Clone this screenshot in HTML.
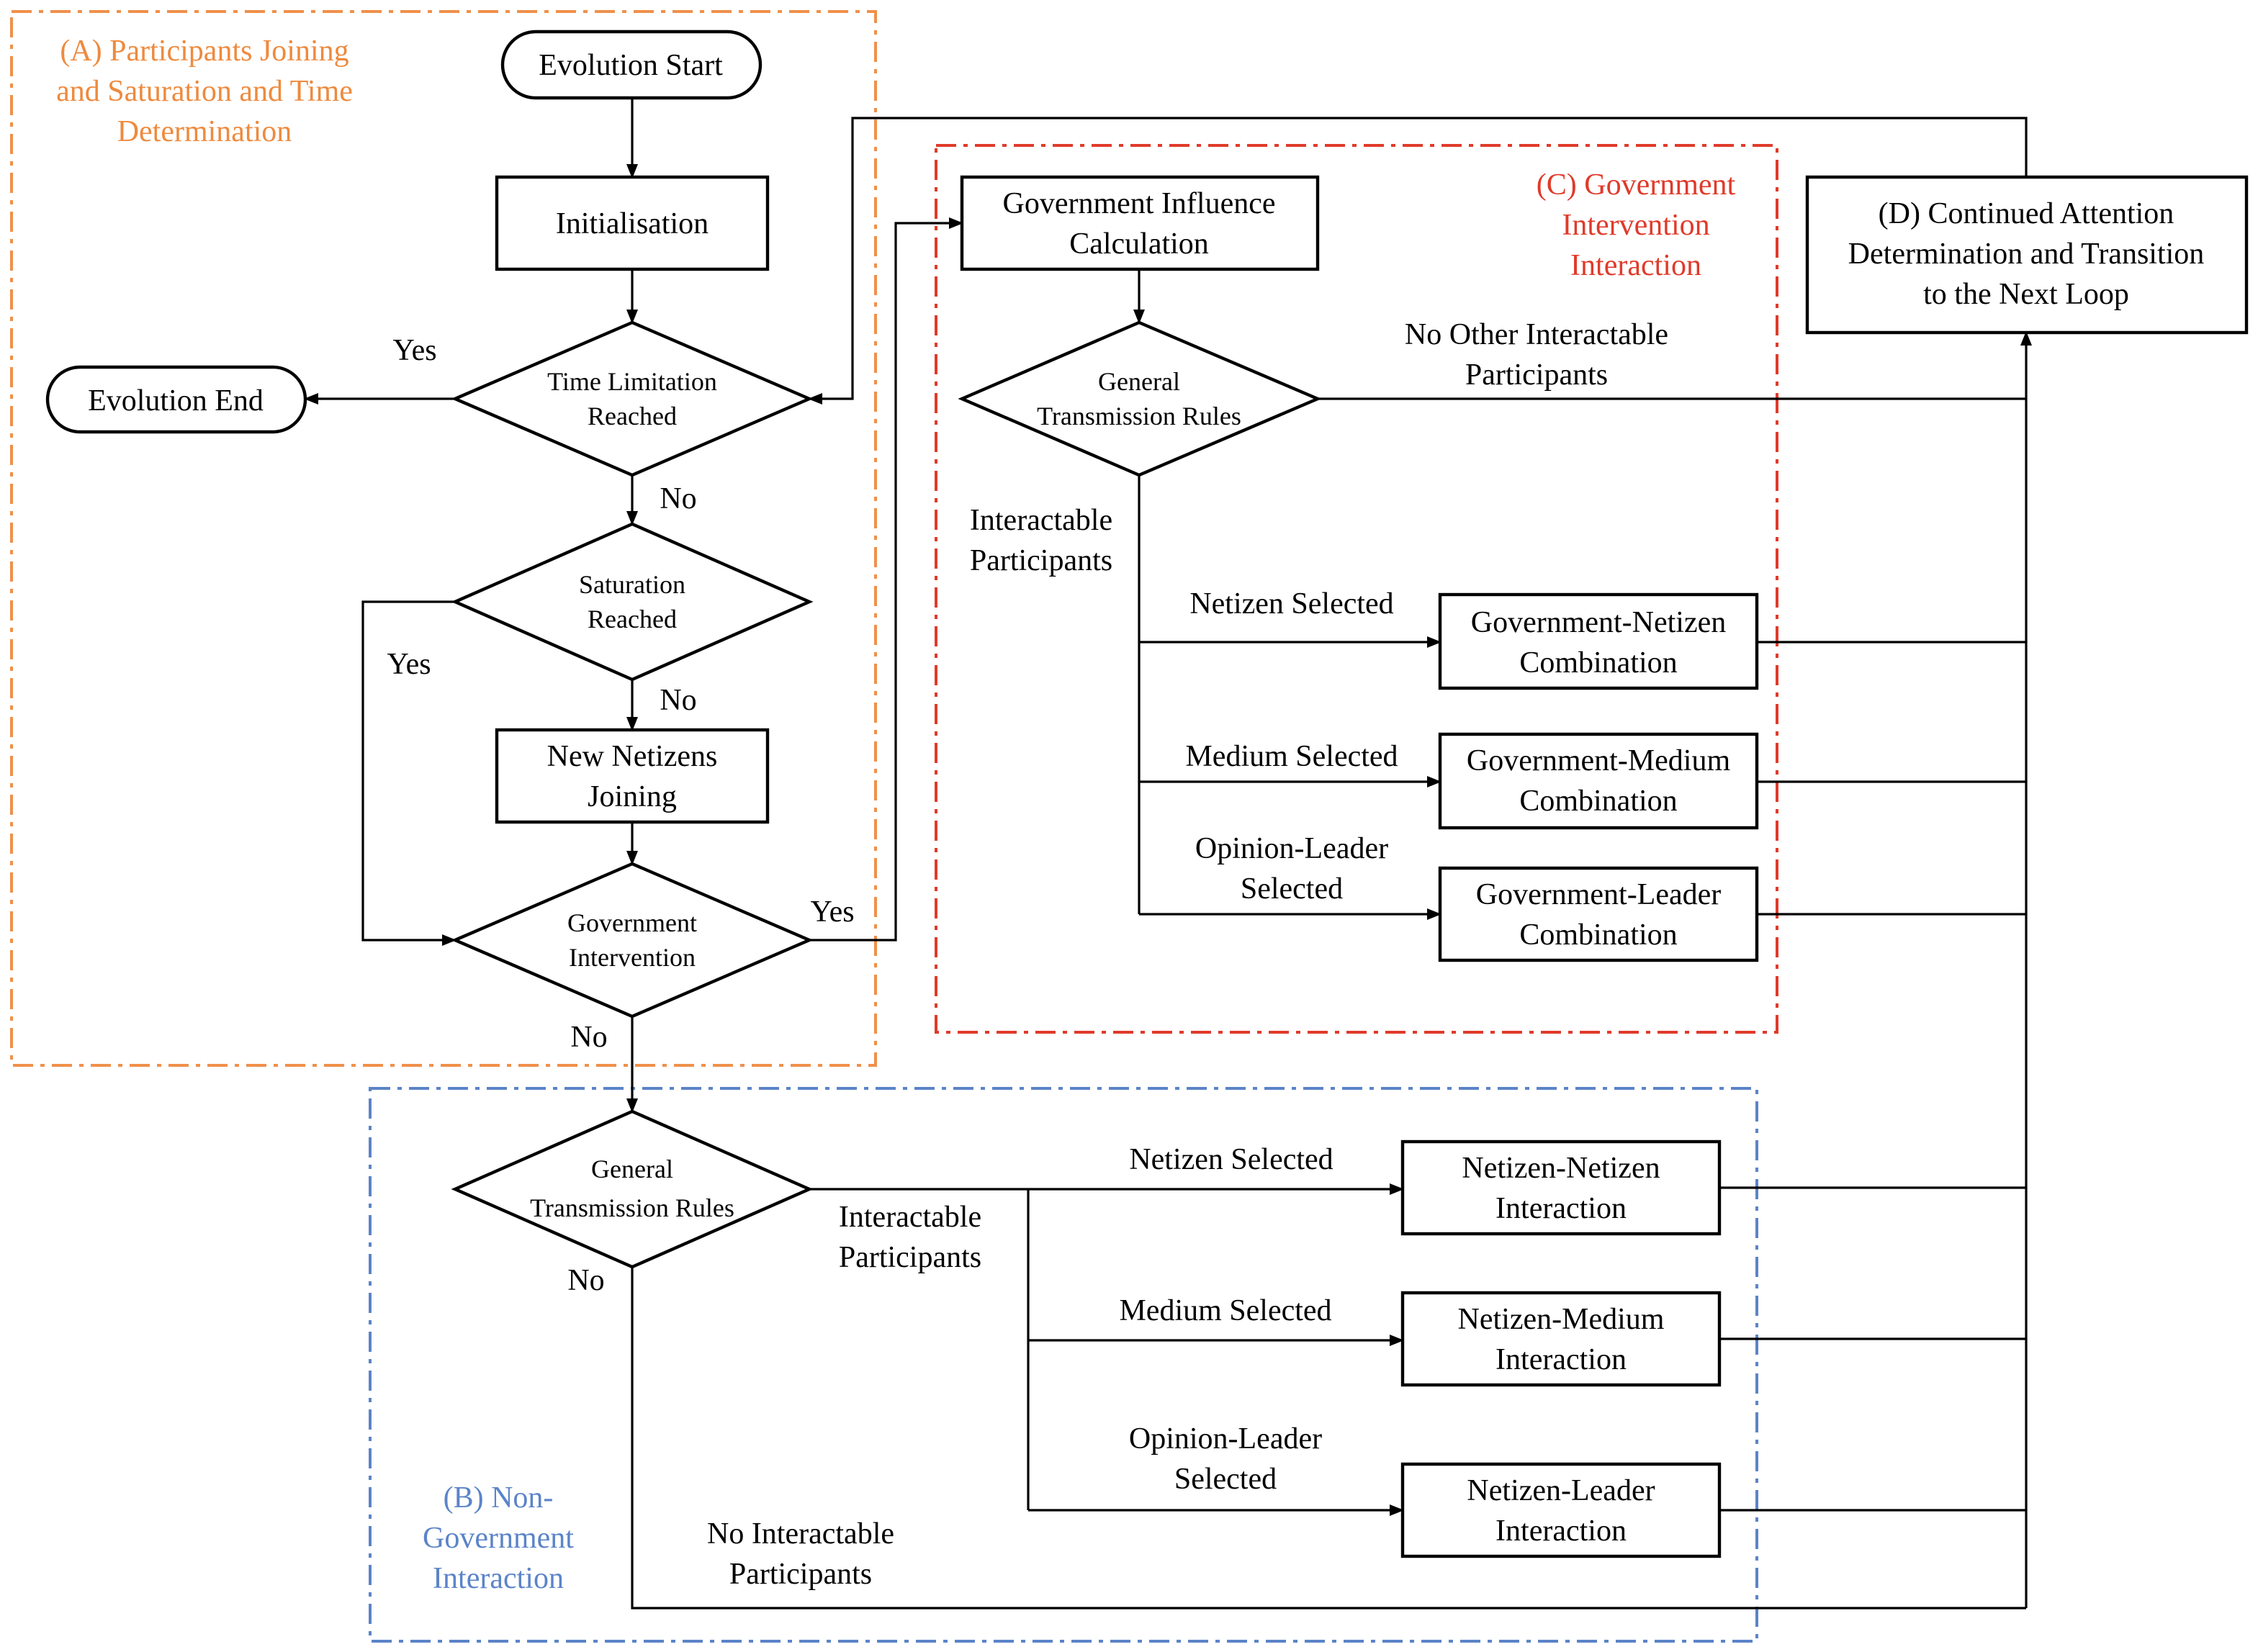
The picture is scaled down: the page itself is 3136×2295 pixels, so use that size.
<!DOCTYPE html>
<html><head><meta charset="utf-8"><style>html,body{margin:0;padding:0;background:#fff;font-family:"Liberation Serif","Times New Roman",serif}svg{display:block}
text{font-family:"Liberation Serif","Times New Roman",serif !important}</style></head>
<body>
<svg xmlns="http://www.w3.org/2000/svg" width="3136" height="2295" viewBox="0 0 1568 1147.5" style="font-family:'Liberation Serif','Times New Roman',serif">
<defs><marker id="a" markerWidth="10" markerHeight="10" refX="9" refY="5" orient="auto" markerUnits="userSpaceOnUse"><path d="M0,1 L10,5 L0,9 Z" fill="#000"/></marker></defs>
<rect width="1568" height="1147.5" fill="#fff"/>
<g fill="none" stroke-width="2" stroke-dasharray="14 5 3 5">
<rect x="8" y="8" width="600" height="732" stroke="#f0904a"/>
<rect x="650" y="101" width="584" height="616" stroke="#e03a2a"/>
<rect x="257" y="756" width="963" height="384" stroke="#5b84c8"/>
</g>
<g fill="#fff" stroke="#000" stroke-width="2.2">
<rect x="349" y="22" width="179" height="46" rx="23"/>
<rect x="345" y="123" width="188" height="64"/>
<polygon points="316,277 439,224 562,277 439,330"/>
<rect x="33" y="255" width="179" height="45" rx="22.5"/>
<polygon points="316,418 439,364 562,418 439,472"/>
<rect x="345" y="507" width="188" height="64"/>
<polygon points="316,653 439,600 562,653 439,706"/>
<polygon points="316,826 439,772 562,826 439,880"/>
<rect x="668" y="123" width="247" height="64"/>
<polygon points="668,277 791,224 915,277 791,330"/>
<rect x="1000" y="413" width="220" height="65"/>
<rect x="1000" y="510" width="220" height="65"/>
<rect x="1000" y="603" width="220" height="64"/>
<rect x="1255" y="123" width="305" height="108"/>
<rect x="974" y="793" width="220" height="64"/>
<rect x="974" y="898" width="220" height="64"/>
<rect x="974" y="1017" width="220" height="64"/>
</g>
<g fill="none" stroke="#000" stroke-width="1.6">
<path d="M439,68 V123" marker-end="url(#a)"/>
<path d="M439,187 V224" marker-end="url(#a)"/>
<path d="M316,277 H212" marker-end="url(#a)"/>
<path d="M439,330 V364" marker-end="url(#a)"/>
<path d="M316,418 H252 V653 H316" marker-end="url(#a)"/>
<path d="M439,472 V507" marker-end="url(#a)"/>
<path d="M439,571 V600" marker-end="url(#a)"/>
<path d="M562,653 H622 V155 H668" marker-end="url(#a)"/>
<path d="M439,706 V772" marker-end="url(#a)"/>
<path d="M1407,123 V82 H592 V277 H562" marker-end="url(#a)"/>
<path d="M791,187 V224" marker-end="url(#a)"/>
<path d="M915,277 H1407"/>
<path d="M791,330 V635"/>
<path d="M791,446 H1000" marker-end="url(#a)"/>
<path d="M791,543 H1000" marker-end="url(#a)"/>
<path d="M791,635 H1000" marker-end="url(#a)"/>
<path d="M1220,446 H1407 M1220,543 H1407 M1220,635 H1407"/>
<path d="M1407,1117 V231" marker-end="url(#a)"/>
<path d="M562,826 H974" marker-end="url(#a)"/>
<path d="M714,826 V1049"/>
<path d="M714,931 H974" marker-end="url(#a)"/>
<path d="M714,1049 H974" marker-end="url(#a)"/>
<path d="M439,880 V1117 H1407"/>
<path d="M1194,825 H1407 M1194,930 H1407 M1194,1049 H1407"/>
</g>
<g font-size="21" text-anchor="middle" fill="#000">
<text x="438" y="52">Evolution Start</text>
<text x="439" y="162">Initialisation</text>
<text x="122" y="285">Evolution End</text>
<text x="439" y="532">New Netizens</text><text x="439" y="560">Joining</text>
<text x="791" y="148">Government Influence</text><text x="791" y="176">Calculation</text>
<text x="1110" y="439">Government-Netizen</text><text x="1110" y="467">Combination</text>
<text x="1110" y="535">Government-Medium</text><text x="1110" y="563">Combination</text>
<text x="1110" y="628">Government-Leader</text><text x="1110" y="656">Combination</text>
<text x="1407" y="155">(D) Continued Attention</text><text x="1407" y="183">Determination and Transition</text><text x="1407" y="211">to the Next Loop</text>
<text x="1084" y="818">Netizen-Netizen</text><text x="1084" y="846">Interaction</text>
<text x="1084" y="923">Netizen-Medium</text><text x="1084" y="951">Interaction</text>
<text x="1084" y="1042">Netizen-Leader</text><text x="1084" y="1070">Interaction</text>
<text x="288" y="250">Yes</text>
<text x="471" y="353">No</text>
<text x="284" y="468">Yes</text>
<text x="471" y="493">No</text>
<text x="578" y="640">Yes</text>
<text x="409" y="727">No</text>
<text x="407" y="896">No</text>
<text x="1067" y="239">No Other Interactable</text><text x="1067" y="267">Participants</text>
<text x="723" y="368">Interactable</text><text x="723" y="396">Participants</text>
<text x="897" y="426">Netizen Selected</text>
<text x="897" y="532">Medium Selected</text>
<text x="897" y="596">Opinion-Leader</text><text x="897" y="624">Selected</text>
<text x="855" y="812">Netizen Selected</text>
<text x="851" y="917">Medium Selected</text>
<text x="851" y="1006">Opinion-Leader</text><text x="851" y="1034">Selected</text>
<text x="632" y="852">Interactable</text><text x="632" y="880">Participants</text>
<text x="556" y="1072">No Interactable</text><text x="556" y="1100">Participants</text>
<g fill="#ee8a3e"><text x="142" y="42">(A) Participants Joining</text><text x="142" y="70">and Saturation and Time</text><text x="142" y="98">Determination</text></g>
<g fill="#5b84c8"><text x="346" y="1047">(B) Non-</text><text x="346" y="1075">Government</text><text x="346" y="1103">Interaction</text></g>
<g fill="#e03a2a"><text x="1136" y="135">(C) Government</text><text x="1136" y="163">Intervention</text><text x="1136" y="191">Interaction</text></g>
</g>
<g font-size="18" text-anchor="middle" fill="#000">
<text x="439" y="271">Time Limitation</text><text x="439" y="295">Reached</text>
<text x="439" y="412">Saturation</text><text x="439" y="436">Reached</text>
<text x="439" y="647">Government</text><text x="439" y="671">Intervention</text>
<text x="439" y="818">General</text><text x="439" y="845">Transmission Rules</text>
<text x="791" y="271">General</text><text x="791" y="295">Transmission Rules</text>
</g>
</svg>
</body></html>
